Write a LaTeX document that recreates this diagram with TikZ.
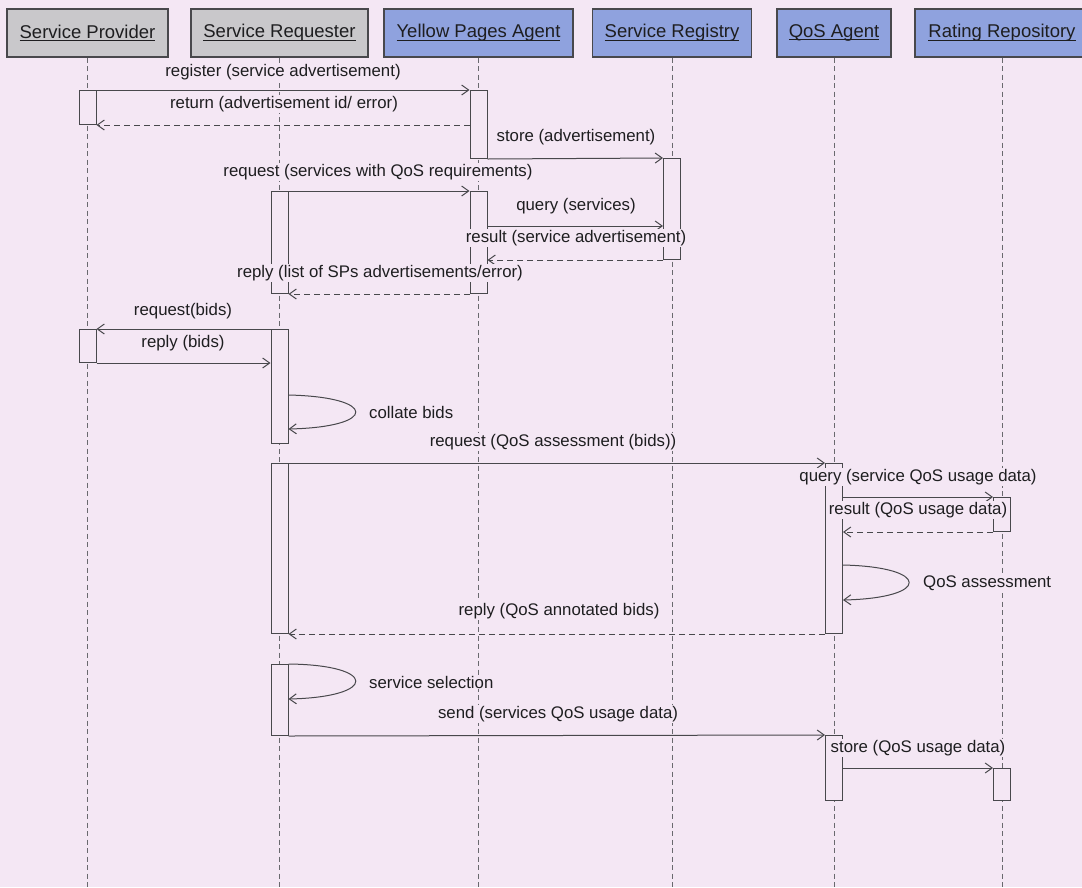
\documentclass[tikz,border=0pt]{standalone}
\usepackage{fontspec}
\setmainfont{Liberation Sans}
\usetikzlibrary{arrows.meta,calc}

\definecolor{paper}{RGB}{244,231,244}
\definecolor{boxgrey}{RGB}{201,200,203}
\definecolor{boxblue}{RGB}{143,162,222}
\definecolor{edge}{RGB}{72,72,76}
\definecolor{ink}{RGB}{30,30,32}
\definecolor{lifegrey}{RGB}{105,105,110}

% underlined object name, rule at a fixed depth below the baseline
\newcommand\hdrtext[1]{\setbox0\hbox{#1}\rlap{\rule[-2.8pt]{\wd0}{0.9pt}}\box0}

\tikzset{
  header/.style={draw=edge, line width=1.1pt, minimum height=48pt, inner sep=0pt,
    text=ink, font=\fontsize{18.5}{22}\selectfont},
  greybox/.style={header, fill=boxgrey},
  bluebox/.style={header, fill=boxblue},
  lifeline/.style={draw=lifegrey, line width=0.8pt, dash pattern=on 5pt off 3.5pt},
  act/.style={draw=edge, fill=paper, line width=1pt, minimum width=17pt,
    inner sep=0pt, anchor=north},
  msg/.style={draw=edge, line width=1pt,
    -{Straight Barb[length=7pt,width=10pt,line width=1pt]}},
  answer/.style={msg, dash pattern=on 6pt off 4pt},
  lbl/.style={fill=paper, inner sep=1pt, text=ink, font=\fontsize{16.8}{20}\selectfont},
}

\begin{document}
\begin{tikzpicture}[x=1pt, y=-1pt]
  \path[use as bounding box, fill=paper] (0,0) rectangle (1082,887);

  % objects
  \node[greybox, minimum width=161pt] (sp)  at (87.5,33)  {\hdrtext{Service Provider}};
  \node[greybox, minimum width=177pt] (sr)  at (279.5,33) {\hdrtext{Service Requester}};
  \node[bluebox, minimum width=189pt] (yp)  at (478.5,33) {\hdrtext{Yellow Pages Agent}};
  \node[bluebox, minimum width=159pt] (reg) at (672,33)   {\hdrtext{Service Registry}};
  \node[bluebox, minimum width=114pt] (qos) at (834,33)   {\hdrtext{QoS Agent}};
  \node[bluebox, minimum width=174pt] (rr)  at (1002,33)  {\hdrtext{Rating Repository}};

  % lifelines
  \foreach \o in {sp,sr,yp,reg,qos,rr}
    \draw[lifeline] (\o.south) -- (\o.south |- 0,887);

  % activation bars
  \node[act, minimum height=34pt]  (spA1)  at (sp.center |- 0,90)   {};
  \node[act, minimum height=33pt]  (spA2)  at (sp.center |- 0,329)  {};
  \node[act, minimum height=102pt] (srA1)  at (sr.center |- 0,191)  {};
  \node[act, minimum height=114pt] (srA2)  at (sr.center |- 0,329)  {};
  \node[act, minimum height=170pt] (srA3)  at (sr.center |- 0,463)  {};
  \node[act, minimum height=71pt]  (srA4)  at (sr.center |- 0,664)  {};
  \node[act, minimum height=68pt]  (ypA1)  at (yp.center |- 0,90)   {};
  \node[act, minimum height=102pt] (ypA2)  at (yp.center |- 0,191)  {};
  \node[act, minimum height=101pt] (regA1) at (reg.center |- 0,158) {};
  \node[act, minimum height=170pt] (qosA1) at (qos.center |- 0,463) {};
  \node[act, minimum height=65pt]  (qosA2) at (qos.center |- 0,735) {};
  \node[act, minimum height=34pt]  (rrA1)  at (rr.center |- 0,497)  {};
  \node[act, minimum height=32pt]  (rrA2)  at (rr.center |- 0,768)  {};

  % registration
  \draw[msg] (spA1.north east) -- (ypA1.north west);
  \node[lbl] at (283,72) {register (service advertisement)};
  \draw[answer] (spA1.south east -| ypA1.west) -- (spA1.south east);
  \node[lbl] at (284,104) {return (advertisement id/ error)};
  \draw[msg] (ypA1.south east) -- (regA1.north west);
  \node[lbl] at (576,137) {store (advertisement)};

  % discovery
  \draw[msg] (srA1.north east) -- (ypA2.north west);
  \node[lbl] at (378,172) {request (services with QoS requirements)};
  \draw[msg] (ypA2.east |- 0,226) -- (regA1.west |- 0,226);
  \node[lbl] at (576,206) {query (services)};
  \draw[answer] (regA1.south west) -- (regA1.south west -| ypA2.east);
  \node[lbl] at (576,238) {result (service advertisement)};
  \draw[answer] (ypA2.south west) -- (srA1.south east);
  \node[lbl] at (380,273) {reply (list of SPs advertisements/error)};

  % bidding
  \draw[msg] (srA2.north west) -- (spA2.north east);
  \node[lbl] at (183,311) {request(bids)};
  \draw[msg] (spA2.south east) -- (spA2.south east -| srA2.west);
  \node[lbl] at (183,343) {reply (bids)};
  \draw[msg] (srA2.east |- 0,395) .. controls (378,397) and (378,427) .. (srA2.east |- 0,429);
  \node[lbl, anchor=west] at (368,412) {collate bids};

  % QoS assessment
  \draw[msg] (srA3.north east) -- (qosA1.north west);
  \node[lbl] at (553,442) {request (QoS assessment (bids))};
  \draw[msg] (qosA1.east |- rrA1.north) -- (rrA1.north west);
  \node[lbl] at (918,477) {query (service QoS usage data)};
  \draw[answer] (rrA1.south west) -- (rrA1.south west -| qosA1.east);
  \node[lbl] at (918,510) {result (QoS usage data)};
  \draw[msg] (qosA1.east |- 0,565) .. controls (931,567) and (931,598) .. (qosA1.east |- 0,600);
  \node[lbl, anchor=west] at (922,583) {QoS assessment};
  \draw[answer] (qosA1.south west) -- (srA3.south east);
  \node[lbl] at (559,611) {reply (QoS annotated bids)};

  % selection and usage data
  \draw[msg] (srA4.north east) .. controls (378,665) and (378,697) .. (srA4.east |- 0,699);
  \node[lbl, anchor=west] at (368,682) {service selection};
  \draw[msg] (srA4.south east) -- (qosA2.north west);
  \node[lbl] at (558,714) {send (services QoS usage data)};
  \draw[msg] (qosA2.east |- rrA2.north) -- (rrA2.north west);
  \node[lbl] at (918,748) {store (QoS usage data)};
\end{tikzpicture}
\end{document}
